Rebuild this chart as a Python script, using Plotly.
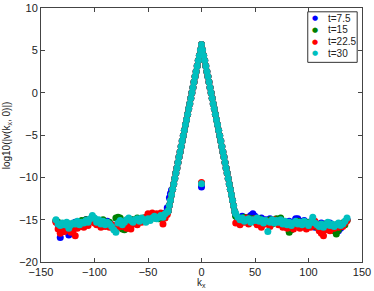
import plotly.graph_objects as go

# kx grids
kx_left = list(range(-136, -31, 2))     # noise floor, left
kx_spike = list(range(-31, 32))         # spike region
kx_right = list(range(32, 137, 2))      # noise floor, right

# spike values (shared by all four times), kx = -31 .. 31
spike_vals = [
    -13.95, -13.3, -12.7, -12.05, -11.4, -10.8, -10.15, -9.5, -8.9, -8.25,
    -7.6, -7.0, -6.35, -5.7, -5.1, -4.45, -3.8, -3.2, -2.55, -1.9,
    -1.3, -0.65, 0.0, 0.6, 1.25, 1.9, 2.5, 3.15, 3.8, 4.4, 5.05,
    5.7,
    5.05, 4.4, 3.8, 3.15, 2.5, 1.9, 1.25, 0.6, 0.0, -0.65,
    -1.3, -1.9, -2.55, -3.2, -3.8, -4.45, -5.1, -5.7, -6.35, -7.0,
    -7.6, -8.25, -8.9, -9.5, -10.15, -10.8, -11.4, -12.05, -12.7, -13.35, -14.0,
]

# isolated value at kx = 0
zero_vals = {"t=7.5": -11.15, "t=15": -10.7, "t=22.5": -10.6, "t=30": -10.75}

# extra early-time points near kx = -30
blue_extra_kx = [-30, -29, -28]
blue_extra_vals = [-12.4, -11.9, -11.5]

left_t75 = [-15.2, -15.6, -17.1, -16.4, -15.8, -15.5, -16.8, -15.7, -15.5, -15.3,
            -15.4, -15.5, -15.2, -15.3, -15.0, -15.4, -15.0, -14.7, -14.9, -15.2,
            -15.1, -15.4, -15.3, -15.5, -15.2, -15.4, -15.6, -15.9, -16.2, -15.5,
            -15.2, -15.5, -15.2, -15.1, -14.9, -15.0, -15.2, -15.1, -15.0, -15.1,
            -14.9, -14.9, -15.2, -14.8, -14.7, -14.6, -14.5, -14.8, -14.6, -14.4,
            -14.5, -14.2, -13.6]
left_t15 = [-15.1, -15.3, -15.6, -15.8, -15.5, -15.4, -15.7, -15.5, -15.8, -15.4,
            -15.3, -15.5, -15.1, -15.2, -15.0, -15.4, -15.1, -14.8, -15.0, -15.1,
            -15.2, -15.4, -15.0, -15.3, -15.6, -15.3, -15.7, -16.0, -14.8, -14.7,
            -14.8, -16.1, -16.2, -16.0, -15.2, -15.4, -15.0, -15.2, -14.8, -15.0,
            -15.1, -14.8, -15.1, -15.0, -14.9, -14.7, -14.8, -14.6, -14.9, -14.6,
            -14.8, -14.4, -14.2]
left_t225 = [-15.3, -16.1, -16.6, -16.0, -16.4, -16.2, -15.9, -16.5, -16.3, -16.9,
             -16.0, -15.8, -15.6, -15.9, -15.4, -15.7, -15.2, -15.0, -15.4, -15.6,
             -15.3, -15.9, -15.5, -15.8, -15.4, -15.9, -15.6, -16.0, -15.7, -15.9,
             -15.5, -15.8, -15.4, -16.0, -15.6, -16.1, -15.5, -15.2, -15.6, -15.0,
             -15.3, -14.9, -14.7, -14.3, -14.4, -14.2, -14.5, -14.3, -14.6, -14.2,
             -15.5, -14.8, -14.4]
left_t30 = [-15.0, -15.5, -15.7, -15.4, -15.6, -15.3, -16.0, -15.6, -15.4, -15.5,
            -15.2, -15.6, -15.3, -15.4, -15.1, -15.3, -14.9, -14.5, -14.8, -15.3,
            -15.0, -15.5, -15.2, -15.6, -15.3, -15.5, -15.8, -16.2, -16.5, -15.4,
            -15.1, -15.6, -15.3, -15.0, -14.8, -15.1, -15.3, -15.0, -14.9, -15.2,
            -14.8, -15.0, -15.3, -14.9, -15.1, -14.8, -14.6, -14.9, -14.7, -14.5,
            -14.7, -14.3, -14.1]

right_t75 = [-14.5, -14.8, -14.9, -14.6, -15.0, -14.8, -14.7, -14.5, -14.3, -14.6,
             -14.9, -15.0, -14.8, -15.2, -15.0, -15.3, -14.9, -15.2, -15.3, -15.0,
             -15.4, -15.1, -15.4, -15.3, -15.5, -15.2, -15.6, -15.3, -14.9, -14.9,
             -15.2, -15.5, -15.1, -15.6, -15.4, -15.5, -15.0, -15.9, -15.5, -15.7,
             -15.4, -16.2, -15.5, -15.8, -15.4, -16.0, -15.7, -15.9, -16.3, -16.0,
             -15.6, -15.3, -15.0]
right_t15 = [-14.6, -15.0, -15.3, -15.0, -14.7, -15.1, -14.8, -15.2, -14.9, -15.3,
             -15.0, -14.9, -15.3, -15.1, -15.4, -15.2, -15.0, -15.5, -15.2, -14.9,
             -15.1, -14.8, -15.3, -15.6, -15.8, -16.5, -16.2, -15.6, -15.4, -15.2,
             -15.6, -15.3, -15.8, -15.5, -15.3, -15.6, -15.2, -15.5, -15.9, -15.6,
             -16.1, -15.8, -15.5, -15.9, -15.6, -16.0, -16.3, -16.7, -16.2, -15.8,
             -15.4, -15.6, -15.1]
right_t225 = [-15.4, -15.2, -15.6, -14.9, -15.3, -14.8, -15.5, -15.0, -15.2, -14.9,
              -15.6, -15.3, -15.9, -15.1, -15.5, -15.2, -15.8, -15.4, -15.0, -15.3,
              -15.6, -15.2, -15.9, -15.4, -16.0, -15.5, -15.8, -16.1, -15.3, -15.6,
              -16.0, -15.4, -15.7, -16.1, -15.5, -15.9, -15.6, -15.2, -15.8, -16.3,
              -16.6, -16.9, -16.2, -15.9, -16.3, -15.7, -16.0, -15.6, -15.9, -15.5,
              -15.8, -15.4, -15.1]
right_t30 = [-14.3, -14.7, -15.0, -14.8, -15.2, -15.0, -14.9, -15.3, -15.0, -15.1,
             -14.8, -15.2, -15.0, -15.4, -15.1, -16.4, -15.3, -15.0, -15.4, -15.1,
             -15.3, -15.0, -15.5, -15.2, -15.6, -15.3, -15.7, -15.4, -15.2, -15.5,
             -15.3, -15.6, -15.2, -15.4, -15.7, -15.3, -14.7, -15.4, -15.6, -15.8,
             -15.5, -15.9, -15.6, -15.3, -15.7, -15.5, -15.8, -15.6, -15.4, -15.7,
             -15.5, -15.2, -14.8]

series_names = ["t=7.5", "t=15", "t=22.5", "t=30"]
series_colors = ["#0000ff", "#008000", "#ff0000", "#00bfbf"]
left_vals = [left_t75, left_t15, left_t225, left_t30]
right_vals = [right_t75, right_t15, right_t225, right_t30]

x_ticks = [-150, -100, -50, 0, 50, 100, 150]
y_ticks = [-20, -15, -10, -5, 0, 5, 10]

FONT = "Liberation Sans, Arial, sans-serif"
TXT = "#222222"

fig = go.Figure()
for name, color, lv, rv in zip(series_names, series_colors, left_vals, right_vals):
    xs = kx_left + kx_spike + kx_right + [0]
    ys = lv + spike_vals + rv + [zero_vals[name]]
    if name == "t=7.5":
        xs = xs + blue_extra_kx
        ys = ys + blue_extra_vals
    fig.add_trace(go.Scatter(
        x=xs, y=ys, mode="markers", name=name, showlegend=False,
        marker=dict(color=color, size=7, line=dict(width=0)),
    ))

axis_common = dict(
    showline=True, linecolor="#444444", linewidth=1, mirror="ticks",
    ticks="inside", ticklen=4, tickcolor="#444444",
    showgrid=False, zeroline=False, automargin=False,
    tickfont=dict(family=FONT, size=11, color=TXT),
)
fig.update_xaxes(range=[-150, 150], tickvals=x_ticks, **axis_common)
fig.update_yaxes(range=[-20, 10], tickvals=y_ticks, **axis_common)

# legend box (drawn as shape + text in paper coordinates)
leg_x0, leg_x1, leg_y0, leg_y1 = 0.831, 0.985, 0.786, 0.985
leg_rows = [0.9594, 0.9134, 0.8673, 0.8217]
annotations = [
    dict(text="log10(|v(k<sub>x</sub>, 0)|)", xref="paper", yref="paper",
         x=-0.105, y=0.5, xanchor="center", yanchor="middle", textangle=-90,
         showarrow=False, font=dict(family=FONT, size=10, color=TXT)),
    dict(text="k<sub>x</sub>", xref="paper", yref="paper",
         x=0.5, y=-0.05, xanchor="center", yanchor="top",
         showarrow=False, font=dict(family=FONT, size=10, color=TXT)),
]
for name, color, ry in zip(series_names, series_colors, leg_rows):
    annotations.append(dict(text="●", xref="paper", yref="paper", x=0.8536, y=ry,
                            xanchor="center", yanchor="middle", showarrow=False,
                            font=dict(family="DejaVu Sans", size=7, color=color)))
    annotations.append(dict(text=name, xref="paper", yref="paper", x=0.888, y=ry,
                            xanchor="left", yanchor="middle", showarrow=False,
                            font=dict(family=FONT, size=10, color=TXT)))

fig.update_layout(
    width=374, height=291,
    margin=dict(l=41, r=12, t=8, b=29),
    plot_bgcolor="white", paper_bgcolor="white",
    showlegend=False,
    shapes=[dict(type="rect", xref="paper", yref="paper",
                 x0=leg_x0, x1=leg_x1, y0=leg_y0, y1=leg_y1,
                 line=dict(color="#333333", width=1), fillcolor="white", layer="above")],
    annotations=annotations,
)

fig.write_html("out.html", config={"displayModeBar": False})

# remove the default page margin so the figure sits at the window origin
with open("out.html", "r", encoding="utf-8") as f:
    html = f.read()
html = html.replace("<head>", "<head><style>html,body{margin:0;padding:0;overflow:hidden;}</style>", 1)
with open("out.html", "w", encoding="utf-8") as f:
    f.write(html)
